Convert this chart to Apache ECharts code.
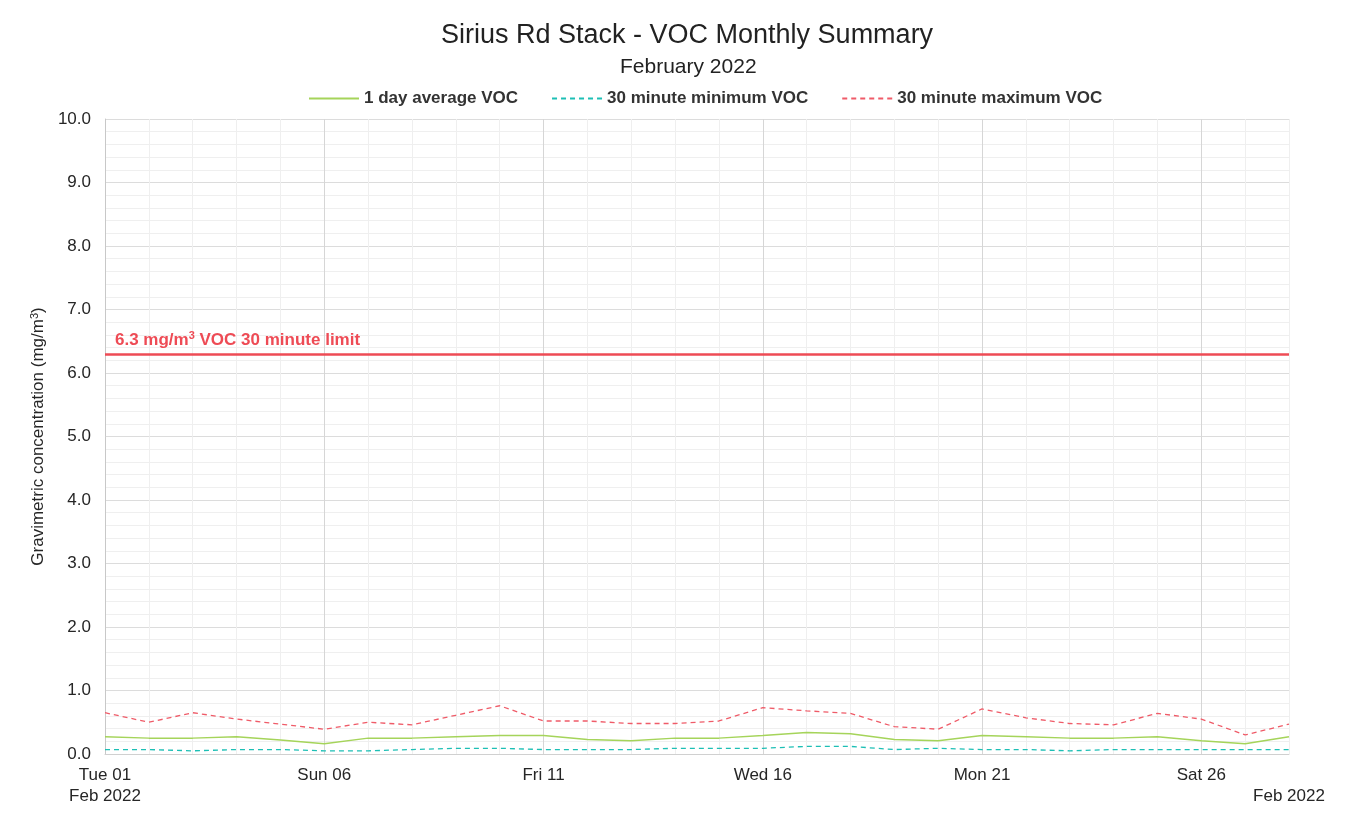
<!DOCTYPE html>
<html>
<head>
<meta charset="utf-8">
<script src="https://cdn.jsdelivr.net/npm/echarts@6/dist/echarts.min.js"></script>
<style>
  body { margin: 0; background: #fff; }
  #chart { width: 1367px; height: 814px; }
</style>
</head>
<body>
<div id="chart"></div>
<script>
// one entry per day, Feb 2022
const days = [
  'Tue 01', 'Wed 02', 'Thu 03', 'Fri 04', 'Sat 05', 'Sun 06', 'Mon 07',
  'Tue 08', 'Wed 09', 'Thu 10', 'Fri 11', 'Sat 12', 'Sun 13', 'Mon 14',
  'Tue 15', 'Wed 16', 'Thu 17', 'Fri 18', 'Sat 19', 'Sun 20', 'Mon 21',
  'Tue 22', 'Wed 23', 'Thu 24', 'Fri 25', 'Sat 26', 'Sun 27', 'Mon 28'
]
const avgVoc = [
  0.27, 0.25, 0.25, 0.27, 0.22, 0.16, 0.25, 0.25, 0.27, 0.29,
  0.29, 0.23, 0.21, 0.25, 0.25, 0.29, 0.34, 0.32, 0.23, 0.21,
  0.29, 0.27, 0.25, 0.25, 0.27, 0.21, 0.16, 0.27
]
const minVoc = [
  0.07, 0.07, 0.05, 0.07, 0.07, 0.05, 0.05, 0.07, 0.09, 0.09,
  0.07, 0.07, 0.07, 0.09, 0.09, 0.09, 0.12, 0.12, 0.07, 0.09,
  0.07, 0.07, 0.05, 0.07, 0.07, 0.07, 0.07, 0.07
]
const maxVoc = [
  0.65, 0.50, 0.65, 0.55, 0.47, 0.39, 0.50, 0.46, 0.61, 0.76,
  0.52, 0.52, 0.48, 0.48, 0.52, 0.73, 0.68, 0.64, 0.43, 0.39,
  0.71, 0.57, 0.48, 0.46, 0.64, 0.55, 0.30, 0.47
]
const limitValue = 6.3
const monthLabel = 'Feb 2022'

const chart = echarts.init(document.getElementById('chart'))
const font = 'Liberation Sans, Arial, sans-serif'
const last = days.length - 1

const option = {
  animation: false,
  textStyle: { fontFamily: font },
  title: [
    {
      text: 'Sirius Rd Stack - VOC Monthly Summary',
      left: 436,
      top: 17,
      textStyle: { fontSize: 27, fontWeight: 'normal', color: '#222', fontFamily: font },
    },
    {
      text: 'February 2022',
      left: 615,
      top: 52,
      textStyle: { fontSize: 21, fontWeight: 'normal', color: '#222', fontFamily: font },
    },
  ],
  legend: {
    top: 85,
    left: 303,
    itemWidth: 50,
    itemHeight: 10,
    itemGap: 33,
    itemStyle: { opacity: 0 },
    textStyle: { fontSize: 17, fontWeight: 'bold', color: '#333', fontFamily: font },
  },
  grid: {
    left: 105,
    right: 78,
    top: 119,
    bottom: 60,
  },
  xAxis: {
    type: 'category',
    data: days,
    boundaryGap: false,
    axisLine: { lineStyle: { color: '#d0d0d0' } },
    axisTick: { show: false },
    axisLabel: {
      interval: (i) => i % 5 === 0 || i === last,
      color: '#262626',
      fontSize: 17,
      lineHeight: 21,
      margin: 11,
      formatter: (v, i) => {
        if (i === 0) return v + '\n' + monthLabel
        if (i === last) return '\n' + monthLabel
        return v
      },
    },
    splitLine: {
      show: true,
      interval: 0,
      lineStyle: { color: ['#d6d6d6', '#efefef', '#efefef', '#efefef', '#efefef'], width: 1 },
    },
  },
  yAxis: {
    type: 'value',
    min: 0,
    max: 10,
    interval: 1,
    name: 'Gravimetric concentration (mg/m{sup|3})',
    nameLocation: 'middle',
    nameGap: 54,
    nameTextStyle: {
      fontSize: 17,
      color: '#262626',
      rich: { sup: { fontSize: 11, padding: [0, 0, 7, 0], color: '#262626' } },
    },
    axisLine: { show: true, lineStyle: { color: '#c8c8c8' } },
    axisTick: { show: false },
    axisLabel: {
      color: '#262626',
      fontSize: 17,
      margin: 14,
      formatter: (v) => v.toFixed(1),
    },
    splitLine: { lineStyle: { color: '#dcdcdc' } },
    minorTick: { show: false, splitNumber: 5 },
    minorSplitLine: { show: true, lineStyle: { color: '#efefef' } },
  },
  series: [
    {
      name: '1 day average VOC',
      type: 'line',
      data: avgVoc,
      symbol: 'none',
      lineStyle: { color: '#a5d45a', width: 1.5 },
      itemStyle: { color: '#a5d45a' },
      markLine: {
        silent: true,
        symbol: 'none',
        data: [{ yAxis: limitValue }],
        lineStyle: { color: '#ee4b55', width: 2.5, type: 'solid' },
        label: {
          position: 'insideStartTop',
          formatter: '6.3 mg/m{sup|3} VOC 30 minute limit',
          color: '#ee4b55',
          fontSize: 17,
          fontWeight: 'bold',
          distance: [10, 4],
          rich: { sup: { fontSize: 11, fontWeight: 'bold', color: '#ee4b55', padding: [0, 0, 8, 0] } },
        },
      },
    },
    {
      name: '30 minute minimum VOC',
      type: 'line',
      data: minVoc,
      symbol: 'none',
      lineStyle: { color: '#1dbfb5', width: 1.3, type: [5, 4] },
      itemStyle: { color: '#1dbfb5' },
    },
    {
      name: '30 minute maximum VOC',
      type: 'line',
      data: maxVoc,
      symbol: 'none',
      lineStyle: { color: '#ef5b68', width: 1.3, type: [5, 4] },
      itemStyle: { color: '#ef5b68' },
    },
  ],
}

chart.setOption(option)
</script>
</body>
</html>
